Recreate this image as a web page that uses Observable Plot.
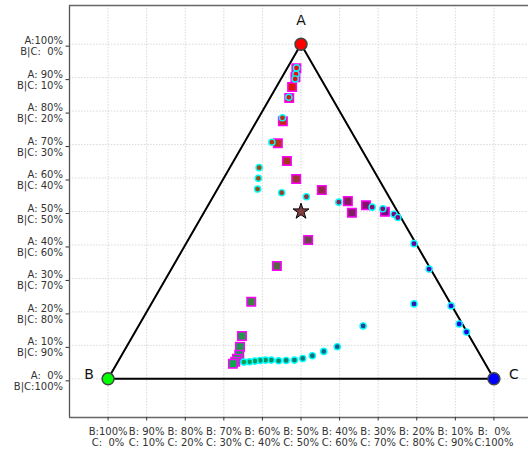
<!DOCTYPE html>
<html><head><meta charset="utf-8">
<script src="https://cdn.jsdelivr.net/npm/d3@7"></script>
<script src="https://cdn.jsdelivr.net/npm/@observablehq/plot@0.6"></script>
<style>body{margin:0;background:#fff}</style>
</head><body><div id="chart"></div>
<script>
// Ternary compositions in percent (A, B, C)
const sqA = [92.8, 90.1, 87.2, 83.9, 77.0, 70.4, 65.1, 59.7, 56.4, 53.1, 51.9, 49.9, 49.6, 41.5, 33.7, 23.0, 12.8, 9.6, 7.2, 6.0, 5.1, 4.5];
const sqB = [4.8, 6.4, 8.7, 11.1, 16.2, 20.8, 21.1, 21.4, 16.4, 11.3, 7.2, 3.3, 12.0, 27.4, 39.4, 51.4, 58.9, 61.0, 62.4, 63.6, 64.5, 65.4];
const sqC = [2.4, 3.5, 4.1, 5.0, 6.8, 8.8, 13.8, 18.9, 27.2, 35.6, 40.9, 46.8, 38.4, 31.1, 26.9, 25.6, 28.3, 29.4, 30.4, 30.4, 30.4, 30.1];

const cirA = [92.9, 91.0, 89.6, 84.1, 78.0, 70.7, 63.1, 59.9, 56.7, 55.6, 54.4, 52.8, 51.3, 50.8, 49.2, 48.2, 40.4, 32.8, 21.8, 16.4, 14.0, 22.4, 15.8, 9.6, 8.2, 6.9, 6.1, 5.6, 5.5, 5.4, 5.6, 5.6, 5.5, 5.3, 5.1, 5.0];
const cirB = [4.7, 5.8, 6.7, 11.1, 15.8, 22.2, 29.3, 31.1, 32.9, 27.2, 21.4, 13.8, 5.9, 3.4, 1.3, 0.8, 0.5, 0.4, 0.2, 0.8, 0.1, 9.5, 26.0, 35.8, 40.0, 43.6, 46.5, 48.9, 51.1, 53.1, 54.9, 56.4, 57.8, 59.3, 60.8, 62.3];
const cirC = [2.4, 3.2, 3.7, 4.8, 6.2, 7.1, 7.6, 9.0, 10.4, 17.2, 24.2, 33.4, 42.8, 45.8, 49.5, 51.0, 59.1, 66.8, 78.0, 82.8, 85.9, 68.1, 58.2, 54.6, 51.8, 49.5, 47.4, 45.5, 43.4, 41.5, 39.5, 38.0, 36.7, 35.4, 34.1, 32.7];

const starA = [50], starB = [25], starC = [25];

const vertexNames = ["A", "B", "C"];
const vertexA = [100, 0, 0], vertexB = [0, 100, 0], vertexC = [0, 0, 100];

const tickPct = [0, 10, 20, 30, 40, 50, 60, 70, 80, 90, 100];

const H = Math.sqrt(3) / 2;
const pad = v => String(v).padStart(3, "\u00A0");
const toPts = (A, B, C) => A.map((a, i) => {
  const s = A[i] + B[i] + C[i];
  const fa = A[i] / s, fb = B[i] / s, fc = C[i] / s;
  return {x: fc + fa / 2, y: fa * H, color: d3.rgb(fa * 255, fb * 255, fc * 255).formatHex()};
});
const squares = toPts(sqA, sqB, sqC);
const circles = toPts(cirA, cirB, cirC);
const star = toPts(starA, starB, starC);
const vertices = toPts(vertexA, vertexB, vertexC).map((d, i) => ({...d, name: vertexNames[i]}));
const triangle = [vertices[1], vertices[2], vertices[0], vertices[1]];

const xTicks = tickPct.map(p => p / 100);
const yTicks = tickPct.map(p => p / 100 * H);
const xLabel = d => { const c = Math.round(d * 100); return "B:" + pad(100 - c) + "%\nC:" + pad(c) + "%"; };
const yLabel = d => { const a = Math.round(d / H * 100); return "A:" + pad(a) + "%\nB|C:" + pad(100 - a) + "%"; };

const gridStyle = {stroke: "#cfcfcf", strokeOpacity: 1, strokeWidth: 0.8, strokeDasharray: "1.5,1.5"};

const chart = Plot.plot({
  width: 528, height: 450,
  marginLeft: 69, marginRight: -4, marginTop: 5, marginBottom: 33,
  x: {domain: [-0.1, 1.1], label: null},
  y: {domain: [-0.1, H + 0.1], label: null},
  style: {fontFamily: "DejaVu Sans", fontSize: "10px", color: "#333", background: "#fff"},
  marks: [
    Plot.gridX(xTicks, gridStyle),
    Plot.gridY(yTicks, gridStyle),
    Plot.ruleX([-0.1], {stroke: "#555", strokeWidth: 1.3}),
    Plot.ruleY([-0.1, H + 0.1], {stroke: "#666", strokeWidth: 1.3}),
    Plot.axisX(xTicks, {anchor: "bottom", label: null, tickSize: 3.5, tickPadding: 6, tickFormat: xLabel, fontSize: 10, lineHeight: 1.1}),
    Plot.axisY(yTicks, {anchor: "left", label: null, tickSize: 3.5, tickPadding: 3, tickFormat: yLabel, fontSize: 10, lineHeight: 1.1, dy: 2}),
    Plot.line(triangle, {x: "x", y: "y", stroke: "#000", strokeWidth: 2}),
    Plot.dot(squares, {x: "x", y: "y", symbol: "square", r: 4.8, fill: d => d.color, stroke: "#ff00ff", strokeWidth: 1.5}),
    Plot.dot(circles, {x: "x", y: "y", r: 3.1, fill: d => d.color, stroke: "#00ffff", strokeWidth: 1.4}),
    Plot.dot(star, {x: "x", y: "y", symbol: "star", r: 5, fill: d => d.color, stroke: "#000", strokeWidth: 1}),
    Plot.dot(vertices, {x: "x", y: "y", r: 6, fill: d => d.color, stroke: "#444", strokeWidth: 1.5}),
    Plot.text(vertices.filter(d => d.name === "A"), {x: "x", y: "y", text: "name", fontSize: 14, fill: "#111", dy: -24}),
    Plot.text(vertices.filter(d => d.name === "B"), {x: "x", y: "y", text: "name", fontSize: 14, fill: "#111", dx: -19, dy: -4}),
    Plot.text(vertices.filter(d => d.name === "C"), {x: "x", y: "y", text: "name", fontSize: 14, fill: "#111", dx: 20, dy: -4})
  ]
});
document.getElementById("chart").appendChild(chart);
</script>
</body></html>
